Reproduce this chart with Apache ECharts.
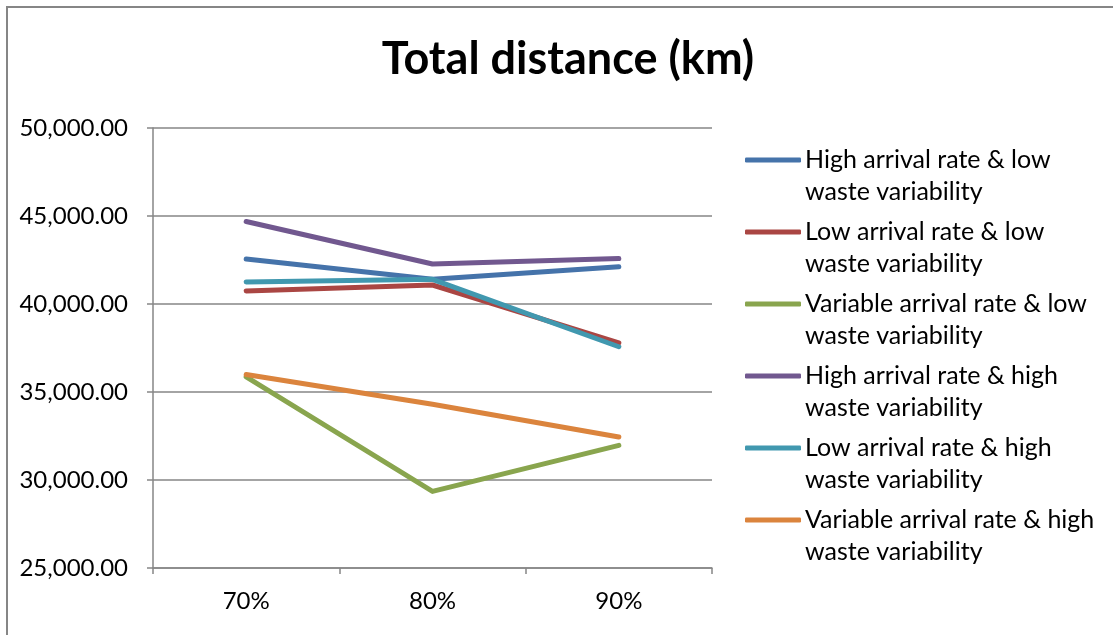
<!DOCTYPE html>
<html>
<head>
<meta charset="utf-8">
<script src="https://cdn.jsdelivr.net/npm/echarts@6/dist/echarts.min.js"></script>
<style>
  html, body { margin: 0; padding: 0; background: #fff; }
  #chart { width: 1113px; height: 635px; }
</style>
</head>
<body>
<div id="chart"></div>
<script>
// Utilisation levels on the x axis
const categories = ['70%', '80%', '90%'];

// Total distance (km) per scenario
const highArrivalLowWaste = [42560, 41400, 42120];
const lowArrivalLowWaste = [40740, 41080, 37790];
const variableArrivalLowWaste = [35860, 29350, 31970];
const highArrivalHighWaste = [44690, 42270, 42580];
const lowArrivalHighWaste = [41250, 41400, 37570];
const variableArrivalHighWaste = [35990, 34300, 32440];

const seriesNames = [
  'High arrival rate & low\nwaste variability',
  'Low arrival rate & low\nwaste variability',
  'Variable arrival rate & low\nwaste variability',
  'High arrival rate & high\nwaste variability',
  'Low arrival rate & high\nwaste variability',
  'Variable arrival rate & high\nwaste variability'
];
const seriesValues = [
  highArrivalLowWaste,
  lowArrivalLowWaste,
  variableArrivalLowWaste,
  highArrivalHighWaste,
  lowArrivalHighWaste,
  variableArrivalHighWaste
];
const seriesColors = ['#4573AA', '#AA4643', '#89A54E', '#71588F', '#4198AF', '#DB843D'];

const FONT = 'Lato, "Open Sans", sans-serif';
const chart = echarts.init(document.getElementById('chart'), null, { renderer: 'canvas' });

chart.setOption({
  backgroundColor: '#ffffff',
  animation: false,
  color: seriesColors,
  title: {
    text: 'Total distance (km)',
    left: 563,
    top: 32,
    textAlign: 'center',
    textStyle: { fontFamily: FONT, fontSize: 45, fontWeight: 'bold', color: '#000' }
  },
  graphic: [{
    type: 'rect',
    shape: { x: 7, y: 7, width: 1300, height: 800 },
    style: { fill: 'none', stroke: '#868686', lineWidth: 2 },
    silent: true
  }],
  legend: {
    orient: 'vertical',
    left: 745,
    top: 112,
    padding: 0,
    itemGap: -24,
    itemWidth: 56,
    itemHeight: 5,
    icon: 'roundRect',
    data: seriesNames,
    // a blank leading line keeps the first text line level with the swatch
    formatter: name => ' \n' + name,
    textStyle: {
      fontFamily: FONT,
      fontSize: 25,
      color: '#000',
      lineHeight: 32,
      padding: [0, 0, 0, -1]
    }
  },
  grid: { left: 153, right: 401, top: 128, bottom: 67, containLabel: false },
  xAxis: {
    type: 'category',
    data: categories,
    boundaryGap: true,
    axisLine: { show: true, lineStyle: { color: '#868686', width: 1.5 } },
    axisTick: { show: true, length: 6, alignWithLabel: false, lineStyle: { color: '#868686', width: 1.5 } },
    axisLabel: { fontFamily: FONT, fontSize: 24, color: '#000', margin: 21 },
    splitLine: { show: false }
  },
  yAxis: {
    type: 'value',
    min: 25000,
    max: 50000,
    interval: 5000,
    axisLine: { show: true, lineStyle: { color: '#868686', width: 1.5 } },
    axisTick: { show: true, length: 6, lineStyle: { color: '#868686', width: 1.5 } },
    axisLabel: {
      fontFamily: FONT,
      fontSize: 24,
      color: '#000',
      margin: 25,
      formatter: v => v.toLocaleString('en-US', { minimumFractionDigits: 2, maximumFractionDigits: 2 })
    },
    splitLine: { show: true, lineStyle: { color: '#868686', width: 1.5 } }
  },
  series: seriesNames.map((name, i) => ({
    name: name,
    type: 'line',
    data: seriesValues[i],
    showSymbol: false,
    symbol: 'none',
    lineStyle: { width: 5, color: seriesColors[i], cap: 'round', join: 'round' },
    itemStyle: { color: seriesColors[i] }
  }))
});
</script>
</body>
</html>
